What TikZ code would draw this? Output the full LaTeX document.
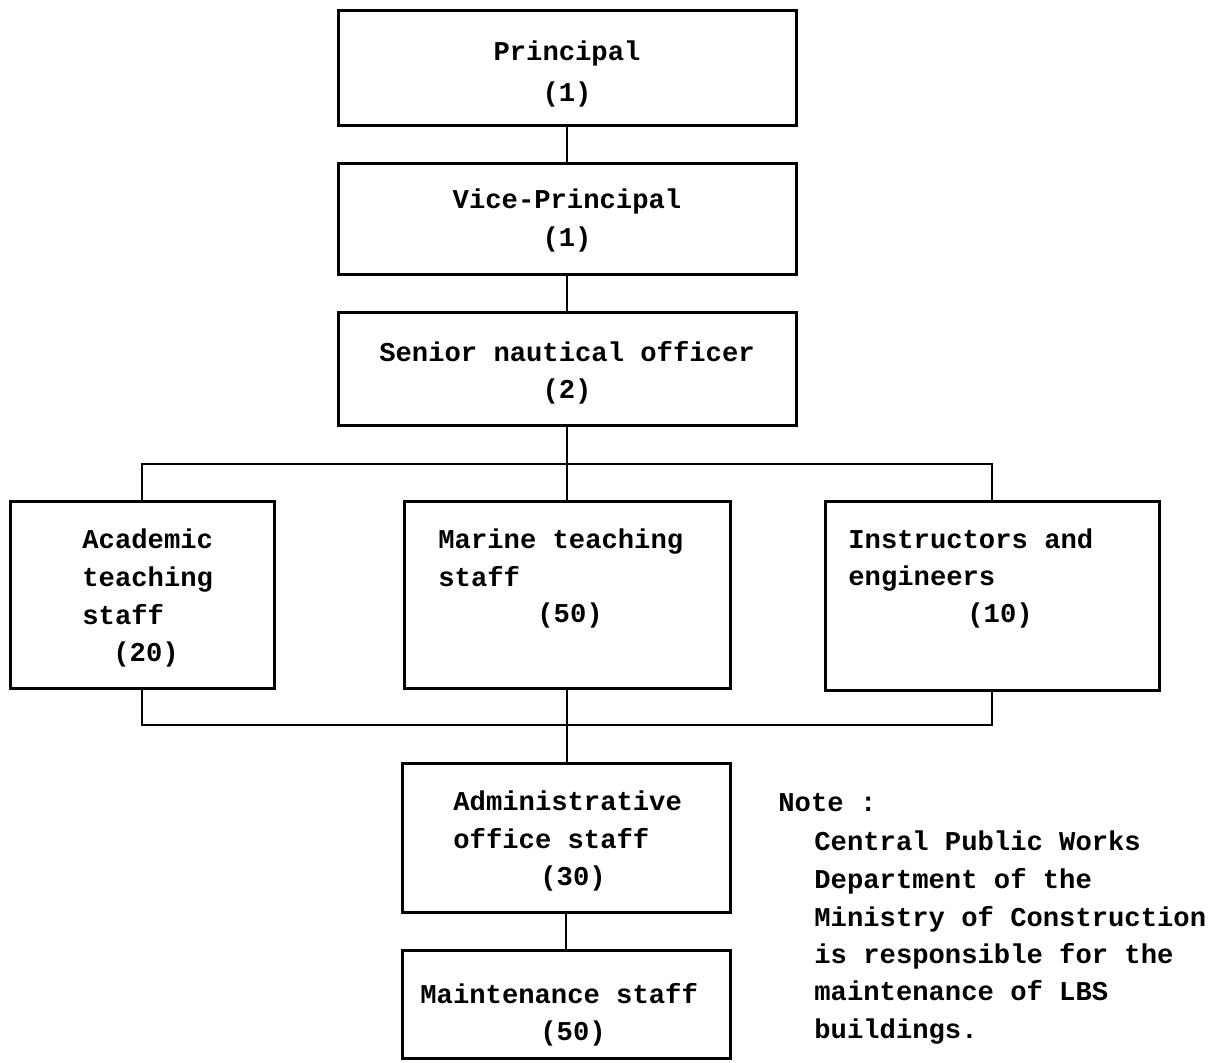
\documentclass[tikz,border=0pt]{standalone}
\usepackage{fontspec}
\newfontfamily\tw{Liberation Mono}
\begin{document}
\begin{tikzpicture}[x=0.5pt,y=-0.5pt,
  box/.style={draw, line width=1.5pt, inner sep=0pt, rectangle},
  conn/.style={draw, line width=1pt},
  txt/.style={inner sep=0pt, font=\tw\bfseries\fontsize{13.6}{16}\selectfont},
  lt/.style={txt, anchor=base west},
  ct/.style={txt, anchor=base}]
\useasboundingbox (0,0) rectangle (1209,1062);
% boxes
\node[box, minimum width=229pt, minimum height=57.5pt] (P) at (567,67.5) {};
\node[box, minimum width=229pt, minimum height=55.5pt] (V) at (567,218.5) {};
\node[box, minimum width=229pt, minimum height=56.5pt] (S) at (567,368.5) {};
\node[box, minimum width=132pt, minimum height=93.5pt] (A) at (142,594.5) {};
\node[box, minimum width=163pt, minimum height=93.5pt] (M) at (567,594.5) {};
\node[box, minimum width=167pt, minimum height=94.5pt] (I) at (992,595.5) {};
\node[box, minimum width=164pt, minimum height=74.5pt] (Ad) at (566,837.5) {};
\node[box, minimum width=164pt, minimum height=54pt] (Mt) at (566,1004) {};
% junctions
\coordinate (b1) at (567,464);
\coordinate (b2) at (567,725);
% connectors
\draw[conn] (P.south) -- (V.north);
\draw[conn] (V.south) -- (S.north);
\draw[conn] (S.south) -- (M.north);
\draw[conn] (A.north) |- (b1) -| (I.north);
\draw[conn] (A.south) |- (b2) -| (I.south);
\draw[conn] (M.south) -- (M.south |- Ad.north);
\draw[conn] (Ad.south) -- (Mt.north);
% texts
\node[ct] (tP1) at (567,60) {Principal};
\node[ct] (tP2) at (567,101) {(1)};
\node[ct] (tV1) at (567,208) {Vice-Principal};
\node[ct] (tV2) at (567,246) {(1)};
\node[ct] (tS1) at (567,361) {Senior nautical officer};
\node[ct] (tS2) at (567,398) {(2)};
\node[lt] (tA1) at (82,548) {Academic};
\node[lt] (tA2) at (82,586) {teaching};
\node[lt] (tA3) at (82,624) {staff};
\node[lt] (tA4) at (113,661) {(20)};
\node[lt] (tM1) at (438,548) {Marine teaching};
\node[lt] (tM2) at (438,586) {staff};
\node[lt] (tM3) at (537,622) {(50)};
\node[lt] (tI1) at (848,548) {Instructors and};
\node[lt] (tI2) at (848,585) {engineers};
\node[lt] (tI3) at (967,622) {(10)};
\node[lt] (tAd1) at (453,810) {Administrative};
\node[lt] (tAd2) at (453,848) {office staff};
\node[lt] (tAd3) at (540,885) {(30)};
\node[lt] (tMt1) at (420,1003) {Maintenance staff};
\node[lt] (tMt2) at (540,1040) {(50)};
\node[lt] (n0) at (778,811) {Note :};
\node[lt] (n1) at (814,850) {Central Public Works};
\node[lt] (n2) at (814,888) {Department of the};
\node[lt] (n3) at (814,926) {Ministry of Construction};
\node[lt] (n4) at (814,963) {is responsible for the};
\node[lt] (n5) at (814,1000) {maintenance of LBS};
\node[lt] (n6) at (814,1038) {buildings.};
\end{tikzpicture}
\end{document}
